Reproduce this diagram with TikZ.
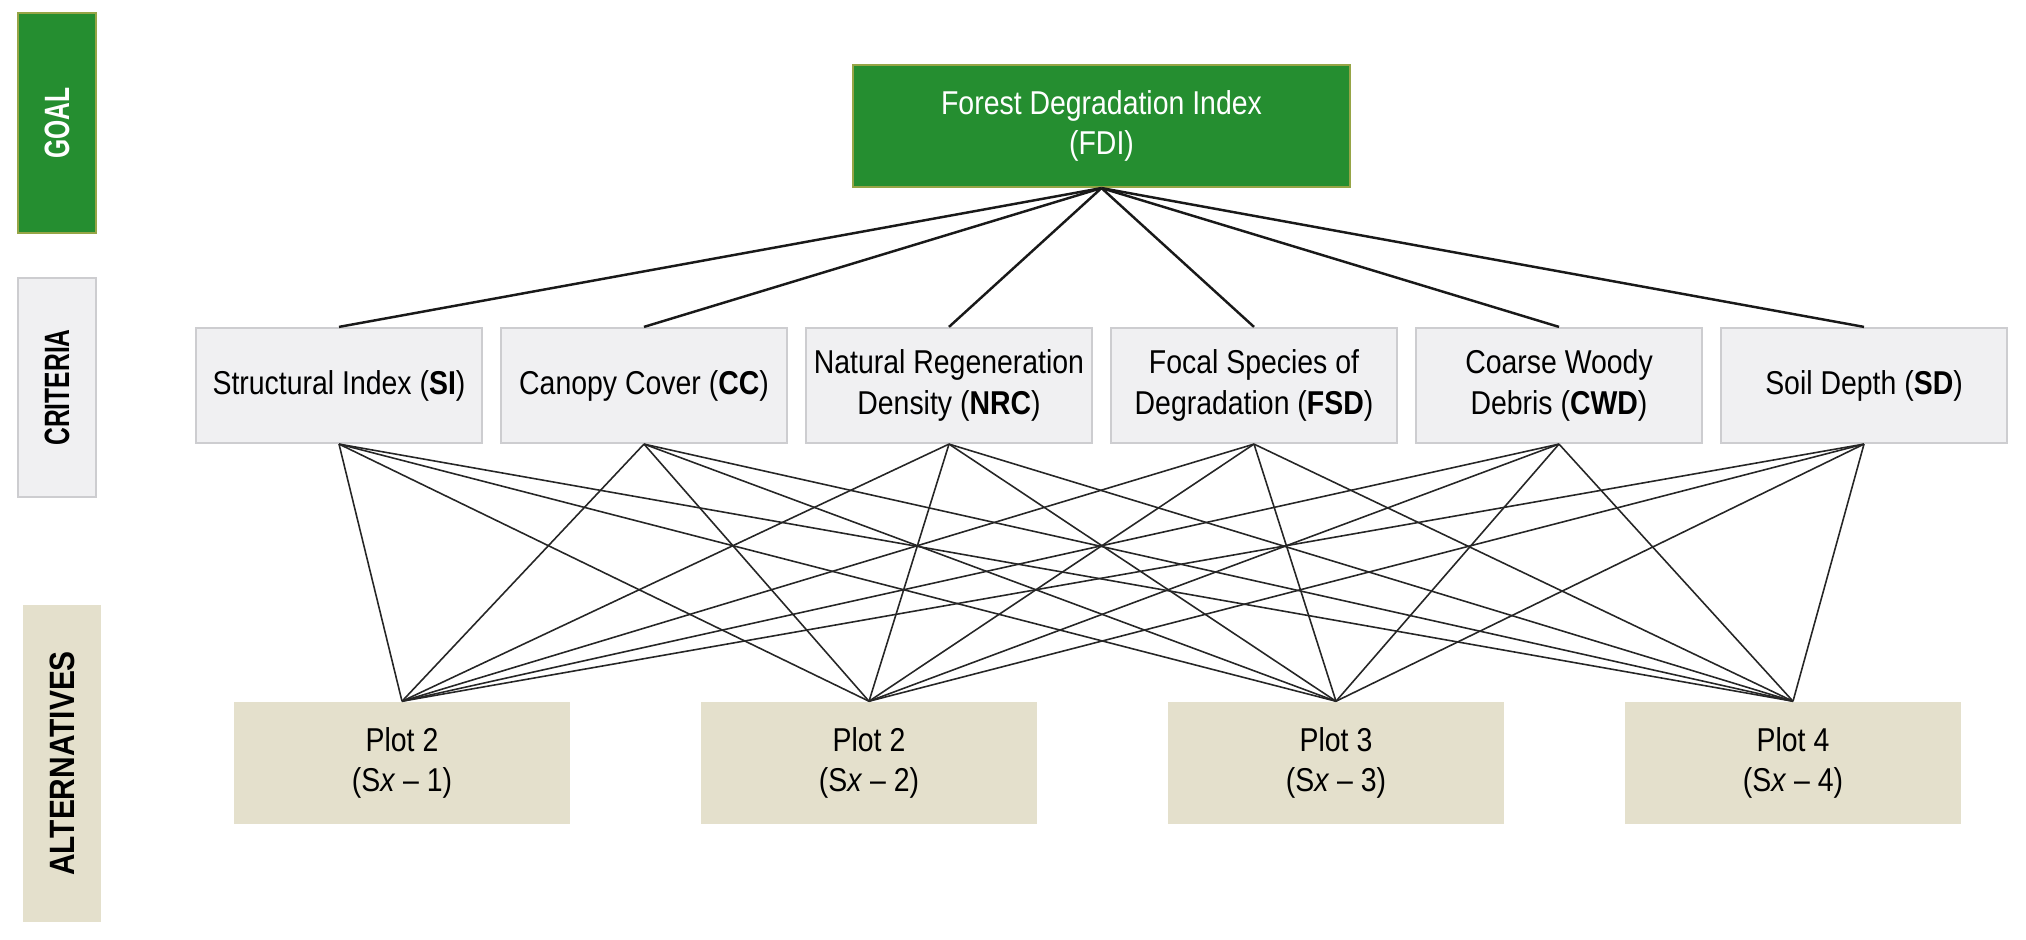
\documentclass[tikz,border=0pt]{standalone}
\usepackage{fontspec}
\setmainfont{Liberation Sans}[FakeStretch=0.86]
\newfontfamily\tagfont{Liberation Sans}[FakeStretch=0.70]
\newfontfamily\widetagfont{Liberation Sans}[FakeStretch=0.85]
\definecolor{fdigreen}{RGB}{37,142,48}
\definecolor{fdiedge}{RGB}{150,165,70}
\definecolor{critfill}{RGB}{240,240,242}
\definecolor{critedge}{RGB}{205,205,208}
\definecolor{altfill}{RGB}{228,224,204}

\begin{document}
\begin{tikzpicture}[x=0.01cm,y=-0.01cm,
box/.style = {rectangle, inner sep=0pt, align=center, font=\fontsize{9.4}{11.6}\selectfont},
goalbox/.style = {box, fill=fdigreen, draw=fdiedge, line width=0.6pt, text=white, minimum width=4.97cm, minimum height=1.22cm},
critbox/.style = {box, fill=critfill, draw=critedge, line width=0.6pt, minimum width=2.86cm, minimum height=1.15cm},
altbox/.style = {box, fill=altfill, minimum width=3.36cm, minimum height=1.22cm},
tag/.style = {rectangle, inner sep=0pt, rotate=90, minimum height=0.78cm, line width=0.6pt, font=\tagfont\bfseries\fontsize{10}{12}\selectfont},
top/.style = {line width=0.7pt, black!90},
low/.style = {line width=0.45pt, black!85}]
\useasboundingbox (0,0) rectangle (2026,940);
    % level tags
    \node[tag, fill=fdigreen, draw=fdiedge, text=white, minimum width=2.2cm] (G) at (57,123) {GOAL};
    \node[tag, fill=critfill, draw=critedge, minimum width=2.19cm] (C) at (57,387.5) {CRITERIA};
    \node[tag, fill=altfill, minimum width=3.17cm] (L) at (62,763.5) {\widetagfont ALTERNATIVES};

    \node[goalbox] (FDI) at (1101.5,126) {Forest Degradation Index\\(FDI)};

    \node[critbox] (SI) at (339,385.5) {Structural Index (\textbf{SI})};
    \node[critbox] (CC) at (644,385.5) {Canopy Cover (\textbf{CC})};
    \node[critbox] (NRC) at (949,385.5) {Natural Regeneration\\Density (\textbf{NRC})};
    \node[critbox] (FSD) at (1254,385.5) {Focal Species of\\Degradation (\textbf{FSD})};
    \node[critbox] (CWD) at (1559,385.5) {Coarse Woody\\Debris (\textbf{CWD})};
    \node[critbox] (SD) at (1864,385.5) {Soil Depth (\textbf{SD})};

    \node[altbox] (P1) at (402,763) {Plot 2\\(S\textit{x} -- 1)};
    \node[altbox] (P2) at (869,763) {Plot 2\\(S\textit{x} -- 2)};
    \node[altbox] (P3) at (1336,763) {Plot 3\\(S\textit{x} -- 3)};
    \node[altbox] (P4) at (1793,763) {Plot 4\\(S\textit{x} -- 4)};

    \foreach \c in {SI,CC,NRC,FSD,CWD,SD}
        \draw[top] (FDI.south) -- (\c.north);
    \foreach \c in {SI,CC,NRC,FSD,CWD,SD}
        \foreach \p in {P1,P2,P3,P4}
            \draw[low] (\c.south) -- (\p.north);
\end{tikzpicture}
\end{document}
